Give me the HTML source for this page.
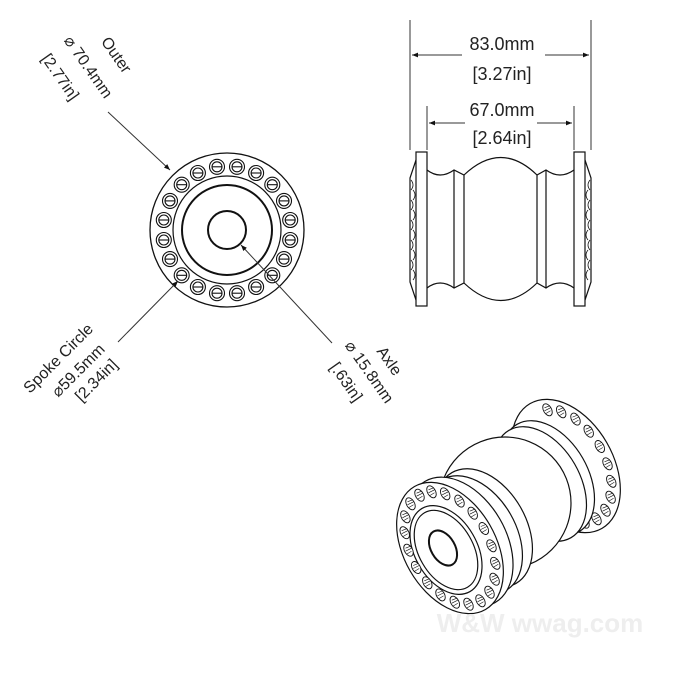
<!DOCTYPE html>
<html><head><meta charset="utf-8"><style>
body{margin:0;background:#fff}
svg{display:block}
text{font-family:"Liberation Sans","DejaVu Sans",sans-serif;fill:#222}
</style></head><body>
<svg width="700" height="700" viewBox="0 0 700 700" xmlns="http://www.w3.org/2000/svg">
<defs>
<marker id="ar" viewBox="0 0 10 10" refX="10" refY="5" markerWidth="9" markerHeight="6" orient="auto-start-reverse" markerUnits="userSpaceOnUse"><path d="M0,1 L10,5 L0,9 z" fill="#111"/></marker>
<g id="fh" stroke="#111" stroke-width="1.1" fill="none"><circle r="7.5"/><circle r="5"/><line x1="-5" y1="0" x2="5" y2="0"/></g>
<g id="ih" stroke="#111" stroke-width="0.9" fill="#fff"><ellipse rx="4" ry="6.5" transform="rotate(-30)"/><path d="M-3,-2 L2,-4 M-3,1 L3,-2 M-2,4 L3,1" fill="none" stroke-width="0.6"/></g>
</defs>
<g stroke="#111" fill="none">
<circle cx="227" cy="230" r="77" stroke-width="1.3"/>
<circle cx="227" cy="230" r="54" stroke-width="1.2"/>
<circle cx="227" cy="230" r="45" stroke-width="2"/>
<circle cx="227" cy="230" r="19" stroke-width="2"/>
</g>
<use href="#fh" x="290.2" y="240.0"/><use href="#fh" x="284.0" y="259.1"/><use href="#fh" x="272.3" y="275.3"/><use href="#fh" x="256.1" y="287.0"/><use href="#fh" x="237.0" y="293.2"/>
<use href="#fh" x="217.0" y="293.2"/><use href="#fh" x="197.9" y="287.0"/><use href="#fh" x="181.7" y="275.3"/><use href="#fh" x="170.0" y="259.1"/><use href="#fh" x="163.8" y="240.0"/>
<use href="#fh" x="163.8" y="220.0"/><use href="#fh" x="170.0" y="200.9"/><use href="#fh" x="181.7" y="184.7"/><use href="#fh" x="197.9" y="173.0"/><use href="#fh" x="217.0" y="166.8"/>
<use href="#fh" x="237.0" y="166.8"/><use href="#fh" x="256.1" y="173.0"/><use href="#fh" x="272.3" y="184.7"/><use href="#fh" x="284.0" y="200.9"/><use href="#fh" x="290.2" y="220.0"/>
<g stroke="#333" stroke-width="1" fill="none">
<line x1="108" y1="112" x2="170" y2="170" marker-end="url(#ar)"/>
<line x1="118" y1="342" x2="178" y2="281" marker-end="url(#ar)"/>
<line x1="332" y1="343" x2="241" y2="245" marker-end="url(#ar)"/>
</g>
<g font-size="16">
<g transform="translate(112,58) rotate(55)"><text text-anchor="middle">Outer</text></g>
<g transform="translate(84,70) rotate(55)"><text text-anchor="middle">⌀ 70.4mm</text></g>
<g transform="translate(56,80) rotate(55)"><text text-anchor="middle">[2.77in]</text></g>
<g transform="translate(62,362) rotate(-45)"><text text-anchor="middle">Spoke Circle</text></g>
<g transform="translate(82,374) rotate(-45)"><text text-anchor="middle">⌀59.5mm</text></g>
<g transform="translate(100,384) rotate(-45)"><text text-anchor="middle">[2.34in]</text></g>
<g transform="translate(385,364) rotate(55)"><text text-anchor="middle">Axle</text></g>
<g transform="translate(365,375) rotate(55)"><text text-anchor="middle">⌀ 15.8mm</text></g>
<g transform="translate(342,385) rotate(55)"><text text-anchor="middle">[.63in]</text></g>
</g>
<g stroke="#333" stroke-width="1">
<line x1="410" y1="20" x2="410" y2="150"/>
<line x1="591" y1="20" x2="591" y2="150"/>
<line x1="412" y1="55" x2="462" y2="55" marker-start="url(#ar)"/>
<line x1="545" y1="55" x2="589" y2="55" marker-end="url(#ar)"/>
<line x1="427" y1="106" x2="427" y2="150"/>
<line x1="574" y1="106" x2="574" y2="150"/>
<line x1="429" y1="123" x2="465" y2="123" marker-start="url(#ar)"/>
<line x1="537" y1="123" x2="572" y2="123" marker-end="url(#ar)"/>
</g>
<g font-size="18" text-anchor="middle">
<text x="502" y="50">83.0mm</text>
<text x="502" y="80">[3.27in]</text>
<text x="502" y="116">67.0mm</text>
<text x="502" y="144">[2.64in]</text>
</g>
<g stroke="#111" stroke-width="1.2" fill="none">
<rect x="416" y="152" width="11" height="154"/>
<rect x="574" y="152" width="11" height="154"/>
<path d="M416,160 L410,178 L410,282 L416,300"/>
<path d="M585,160 L591,178 L591,282 L585,300"/>
<path d="M427,170 Q440,180 454,170 L464,175 Q501,140 537,175 L546,170 Q560,180 574,170"/>
<path d="M427,288 Q440,278 454,288 L464,283 Q501,318 537,283 L546,288 Q560,278 574,288"/>
<line x1="454" y1="170" x2="454" y2="288"/>
<line x1="464" y1="175" x2="464" y2="283"/>
<line x1="537" y1="175" x2="537" y2="283"/>
<line x1="546" y1="170" x2="546" y2="288"/>
<g stroke-width="0.8">
<path d="M411,180 q4,5 0,10 M413,190 q4,5 0,10 M411,200 q4,5 0,10 M413,210 q4,5 0,10 M411,220 q4,5 0,10 M413,230 q4,5 0,10 M411,240 q4,5 0,10 M413,250 q4,5 0,10 M411,260 q4,5 0,10 M413,270 q4,5 0,10"/>
<path d="M590,180 q-4,5 0,10 M588,190 q-4,5 0,10 M590,200 q-4,5 0,10 M588,210 q-4,5 0,10 M590,220 q-4,5 0,10 M588,230 q-4,5 0,10 M590,240 q-4,5 0,10 M588,250 q-4,5 0,10 M590,260 q-4,5 0,10 M588,270 q-4,5 0,10"/>
</g>
</g>
<!-- iso -->
<g stroke="#111" stroke-width="1.2" fill="#fff">
<ellipse cx="566" cy="466" rx="47" ry="72" transform="rotate(-30 566 466)"/>
</g>
<use href="#ih" x="547.5" y="409.8"/><use href="#ih" x="561.2" y="411.8"/><use href="#ih" x="575.5" y="419.1"/><use href="#ih" x="588.7" y="431.2"/><use href="#ih" x="599.8" y="446.5"/><use href="#ih" x="607.5" y="463.8"/><use href="#ih" x="611.3" y="481.3"/><use href="#ih" x="610.6" y="497.2"/><use href="#ih" x="605.5" y="510.2"/><use href="#ih" x="596.5" y="518.8"/><use href="#ih" x="584.5" y="522.2"/>
<g stroke="#111" stroke-width="1.2" fill="#fff">
<ellipse cx="548" cy="478" rx="40" ry="62" transform="rotate(-30 548 478)"/>
<ellipse cx="540" cy="484" rx="40" ry="62" transform="rotate(-30 540 484)"/>
<circle cx="505" cy="503" r="66"/>
<ellipse cx="484" cy="528" rx="42" ry="64" transform="rotate(-30 484 528)"/>
<ellipse cx="474" cy="535" rx="42" ry="64" transform="rotate(-30 474 535)"/>
<ellipse cx="460" cy="542" rx="46" ry="70" transform="rotate(-30 460 542)"/>
<ellipse cx="450" cy="548" rx="46" ry="71" transform="rotate(-30 450 548)"/>
<ellipse cx="446" cy="550" rx="31" ry="48" transform="rotate(-30 446 550)"/>
<ellipse cx="446" cy="550" rx="27" ry="43" transform="rotate(-30 446 550)"/>
<ellipse cx="443" cy="548" rx="12" ry="19" transform="rotate(-30 443 548)" stroke-width="2"/>
</g>
<use href="#ih" x="483.8" y="528.5"/><use href="#ih" x="491.5" y="545.8"/><use href="#ih" x="495.3" y="563.3"/><use href="#ih" x="494.6" y="579.2"/><use href="#ih" x="489.5" y="592.2"/>
<use href="#ih" x="480.5" y="600.8"/><use href="#ih" x="468.5" y="604.2"/><use href="#ih" x="454.8" y="602.2"/><use href="#ih" x="440.5" y="594.9"/><use href="#ih" x="427.3" y="582.8"/>
<use href="#ih" x="416.2" y="567.5"/><use href="#ih" x="408.5" y="550.2"/><use href="#ih" x="404.7" y="532.7"/><use href="#ih" x="405.4" y="516.8"/><use href="#ih" x="410.5" y="503.8"/>
<use href="#ih" x="419.5" y="495.2"/><use href="#ih" x="431.5" y="491.8"/><use href="#ih" x="445.2" y="493.8"/><use href="#ih" x="459.5" y="501.1"/><use href="#ih" x="472.7" y="513.2"/>
<text x="540" y="632" text-anchor="middle" font-size="26" font-weight="bold" style="fill:#eee">W&amp;W  wwag.com</text>
</svg>
</body></html>
